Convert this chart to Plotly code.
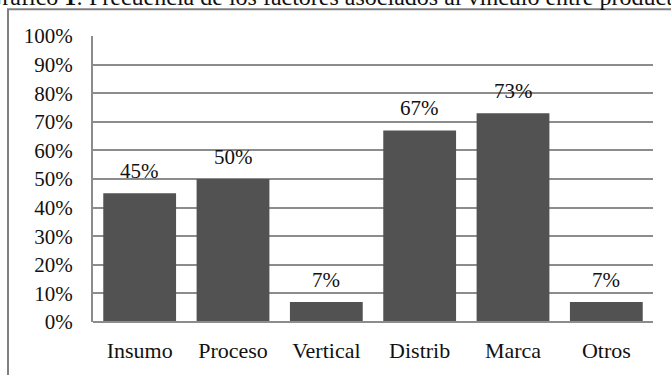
import plotly.graph_objects as go

categories = ["Insumo", "Proceso", "Vertical", "Distrib", "Marca", "Otros"]
values = [0.45, 0.50, 0.07, 0.67, 0.73, 0.07]
tick_vals = [0, 0.1, 0.2, 0.3, 0.4, 0.5, 0.6, 0.7, 0.8, 0.9, 1.0]
title_text = "Gráfico <b>1</b>: Frecuencia de los factores asociados al vínculo entre productores"

W, H = 671, 375
ml, mr, mt, mb = 93, 18, 36, 50
pw, ph = W - ml - mr, H - mt - mb

def px_x(p):
    return (p - ml) / pw

def px_y(p):
    return 1 - (p - mt) / ph

FONT = "Liberation Serif"

fig = go.Figure()
fig.add_trace(go.Bar(
    x=categories, y=values,
    marker=dict(color="#525252", line=dict(width=0)),
    hoverinfo="x+y",
))

annotations = [
    dict(text=f"{v:.0%}", x=c, y=v, xref="x", yref="y",
         xanchor="center", yanchor="bottom", yshift=8, showarrow=False,
         font=dict(family=FONT, size=21, color="#111"))
    for c, v in zip(categories, values)
]
annotations.append(
    dict(text=title_text, xref="paper", yref="paper",
         x=px_x(-17), y=px_y(12), xanchor="left", yanchor="bottom",
         showarrow=False, font=dict(family=FONT, size=24, color="#111"))
)

fig.update_layout(
    width=W, height=H,
    margin=dict(l=ml, r=mr, t=mt, b=mb),
    paper_bgcolor="white", plot_bgcolor="white",
    showlegend=False,
    bargap=0.22,
    font=dict(family=FONT, size=20, color="#111"),
    xaxis=dict(showgrid=False, showline=False, ticks="", ticklabelstandoff=13,
               tickfont=dict(family=FONT, size=22)),
    yaxis=dict(range=[0, 1], tickvals=tick_vals, tickformat=".0%",
               showgrid=True, gridcolor="#8c8c8c", gridwidth=1.5,
               zeroline=False, showline=True, linecolor="#8c8c8c", linewidth=2,
               ticks="", ticklabelstandoff=14,
               tickfont=dict(family=FONT, size=21)),
    shapes=[
        dict(type="line", xref="paper", yref="paper",
             x0=px_x(8), x1=px_x(8), y0=px_y(9), y1=px_y(380),
             line=dict(color="#808080", width=2)),
        dict(type="line", xref="paper", yref="paper",
             x0=px_x(7), x1=px_x(680), y0=px_y(9), y1=px_y(9),
             line=dict(color="#808080", width=2)),
        dict(type="line", xref="paper", yref="paper",
             x0=0, x1=1, y0=0, y1=0, line=dict(color="#8c8c8c", width=2)),
    ],
    annotations=annotations,
)

fig.write_html("out.html")
